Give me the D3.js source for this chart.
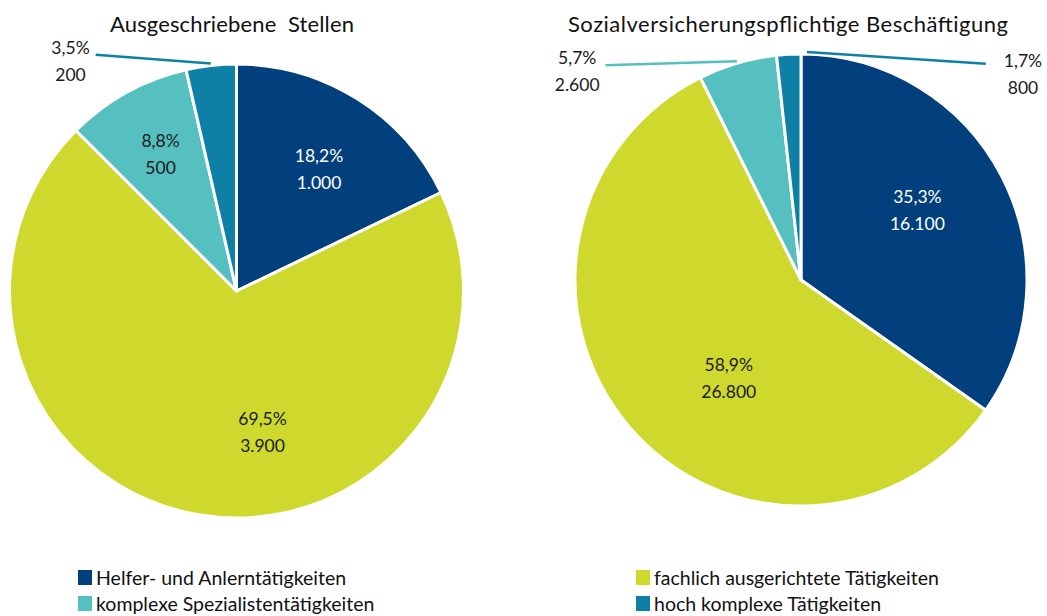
<!DOCTYPE html>
<html>
<head>
<meta charset="utf-8">
<script src="https://cdn.jsdelivr.net/npm/d3@7"></script>
<style>
  html, body { margin: 0; padding: 0; background: #fff; }
  svg { display: block; font-family: "Lato", "Open Sans", sans-serif; }
</style>
</head>
<body>
<svg id="chart" width="1047" height="616"></svg>
<script>
// ---- data ----
const categories = [
  "Helfer- und Anlerntätigkeiten",
  "fachlich ausgerichtete Tätigkeiten",
  "komplexe Spezialistentätigkeiten",
  "hoch komplexe Tätigkeiten"
];
const titles = ["Ausgeschriebene  Stellen", "Sozialversicherungspflichtige Beschäftigung"];
const stellenValues = [1000, 3900, 500, 200];
const stellenLabels = ["18,2%", "69,5%", "8,8%", "3,5%"];
const stellenValueLabels = ["1.000", "3.900", "500", "200"];
const beschValues = [16100, 26800, 2600, 800];
const beschLabels = ["35,3%", "58,9%", "5,7%", "1,7%"];
const beschValueLabels = ["16.100", "26.800", "2.600", "800"];

// ---- styles / layout ----
const colors = ["#02407d", "#cfd82d", "#56bfc0", "#0e80a6"];
const labelColors = ["#ffffff", "#1a1a1a", "#1a1a1a", "#1a1a1a"];

const svg = d3.select("#chart");
const color = d3.scaleOrdinal().domain(categories).range(colors);

const pies = [
  {
    cx: 236.5, cy: 291, r: 227, titleX: 232, titleY: 32, titleLen: 244,
    values: stellenValues, pct: stellenLabels, vals: stellenValueLabels,
    // label placement: angle (deg, clockwise from top) and radius factor
    place: [
      {a: 34, f: 0.65}, {a: 169.5, f: 0.63}, {a: 331, f: 0.69},
      {a: 324.2, f: 1.25, outside: true, side: "left"}
    ]
  },
  {
    cx: 801, cy: 280, r: 226, titleX: 788, titleY: 32, titleLen: 440,
    values: beschValues, pct: beschLabels, vals: beschValueLabels,
    place: [
      {a: 59.1, f: 0.60}, {a: 216.3, f: 0.54},
      {a: 313, f: 1.354, outside: true, side: "left"},
      {a: 47.1, f: 1.341, outside: true, side: "right", startNudge: 4.6}
    ]
  }
];

const pie = d3.pie().sort(null).value(d => d);
const rad = Math.PI / 180;
function polar(cx, cy, angDeg, r) {
  return [cx + r * Math.sin(angDeg * rad), cy - r * Math.cos(angDeg * rad)];
}

pies.forEach((p, pi) => {
  const g = svg.append("g");
  const arc = d3.arc().innerRadius(0).outerRadius(p.r);
  const arcs = pie(p.values);

  g.append("text")
    .attr("x", p.titleX).attr("y", p.titleY)
    .attr("text-anchor", "middle")
    .attr("font-size", 22)
    .attr("textLength", p.titleLen)
    .attr("lengthAdjust", "spacing")
    .attr("fill", "#111")
    .style("white-space", "pre")
    .text(titles[pi]);

  const pg = g.append("g").attr("transform", `translate(${p.cx},${p.cy})`);
  pg.selectAll("path").data(arcs).join("path")
    .attr("d", arc)
    .attr("fill", (d, i) => color(categories[i]))
    .attr("stroke", "#fff")
    .attr("stroke-width", 3)
    .attr("stroke-linejoin", "round");

  arcs.forEach((d, i) => {
    const pl = p.place[i];
    const [lx, ly] = polar(p.cx, p.cy, pl.a, pl.f * p.r);
    const t = g.append("text")
      .attr("text-anchor", "middle")
      .attr("font-size", 17.5)
      .attr("fill", pl.outside ? "#1a1a1a" : labelColors[i]);
    t.append("tspan").attr("x", lx).attr("y", ly - 7).text(p.pct[i]);
    t.append("tspan").attr("x", lx).attr("y", ly + 20).text(p.vals[i]);

    if (pl.outside) {
      const mid = (d.startAngle + d.endAngle) / 2 / rad + (pl.startNudge || 0);
      const [sx, sy] = polar(p.cx, p.cy, mid, p.r + 2);
      const w = t.node().getBBox().width;
      const ex = pl.side === "left" ? lx + w / 2 + 6 : lx - w / 2 - 18;
      const ey = pl.side === "left" ? ly - 6 : ly - 10;
      g.append("line")
        .attr("x1", sx).attr("y1", sy).attr("x2", ex).attr("y2", ey)
        .attr("stroke", color(categories[i]))
        .attr("stroke-width", 2.5);
    }
  });
});

// ---- legend ----
const legendPos = [[78, 570], [636, 570], [78, 596], [636, 596]];
const lg = svg.append("g");
categories.forEach((c, i) => {
  const [x, y] = legendPos[i];
  lg.append("rect").attr("x", x).attr("y", y).attr("width", 14).attr("height", 15)
    .attr("fill", color(c));
  lg.append("text").attr("x", x + 18).attr("y", y + 14.5)
    .attr("font-size", 19.5).attr("fill", "#111").text(c);
});
</script>
</body>
</html>
